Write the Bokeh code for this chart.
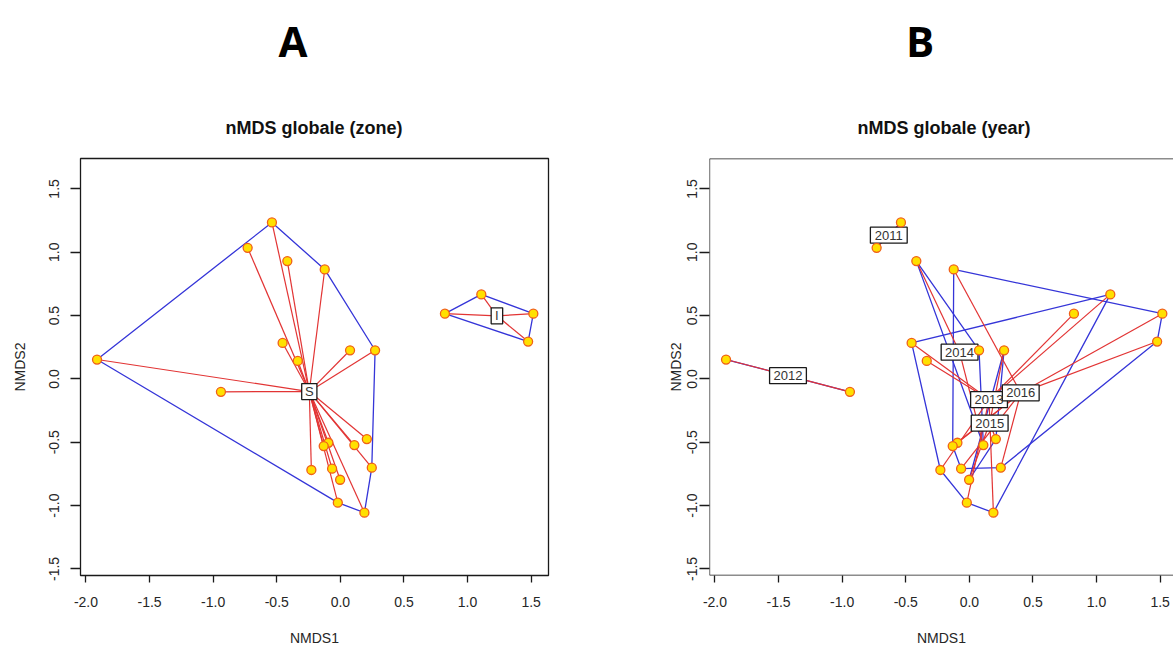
import numpy as np
from bokeh.plotting import figure
from bokeh.layouts import row, column
from bokeh.models import FixedTicker, NumeralTickFormatter, Span, Div
from bokeh.core.properties import value
from bokeh.embed import file_html
from bokeh.resources import INLINE

# ---------------- data ----------------
nmds1 = [-1.913, -0.538, -0.729, -0.417, -0.123, -0.454, -0.335, 0.076, 0.273, -0.939,
         0.208, 0.110, -0.094, -0.131, 0.247, -0.228, -0.065, -0.002, -0.020, 0.189,
         0.822, 1.108, 1.517, 1.476]
nmds2 = [0.153, 1.235, 1.035, 0.930, 0.864, 0.284, 0.142, 0.226, 0.226, -0.102,
         -0.475, -0.522, -0.504, -0.530, -0.701, -0.719, -0.709, -0.796, -0.977, -1.056,
         0.515, 0.667, 0.515, 0.295]
zone = ["S", "S", "S", "S", "S", "S", "S", "S", "S", "S",
        "S", "S", "S", "S", "S", "S", "S", "S", "S", "S",
        "I", "I", "I", "I"]
year = ["2012", "2011", "2011", "2014", "2016", "2013", "2013", "2014", "2015", "2012",
        "2015", "2014", "2016", "2016", "2016", "2013", "2016", "2015", "2013", "2013",
        "2013", "2013", "2016", "2016"]
zone_order = ["S", "I"]
year_order = ["2011", "2012", "2013", "2014", "2015", "2016"]
x_ticks = [-2.0, -1.5, -1.0, -0.5, 0.0, 0.5, 1.0, 1.5]
y_ticks = [-1.5, -1.0, -0.5, 0.0, 0.5, 1.0, 1.5]
panel_letters = ["A", "B"]
panel_titles = ["nMDS globale (zone)", "nMDS globale (year)"]

# ---------------- style ----------------
FONT = "Liberation Sans"
BLUE = "#3535d8"
RED = "#e23434"
PT_FILL = "#ffe000"
PT_LINE = "#f06018"
BOXC = "#1a1a1a"
PXU = 127.2
X0 = -2.043
Y0, Y1 = -1.552, 1.740
FH = 417
FWA, FWB = 468, 464
LEFT_A, RIGHT_A, LEFT_B = 80, 97, 64
HEAD_H = 150
FRAME_TOP = 158
TOTAL_W = LEFT_A + FWA + RIGHT_A + LEFT_B + FWB


def convex_hull(pts):
    pts = sorted(set(pts))
    if len(pts) <= 2:
        return list(pts)

    def cross(o, a, b):
        return (a[0] - o[0]) * (b[1] - o[1]) - (a[1] - o[1]) * (b[0] - o[0])

    lower = []
    for q in pts:
        while len(lower) >= 2 and cross(lower[-2], lower[-1], q) <= 0:
            lower.pop()
        lower.append(q)
    upper = []
    for q in reversed(pts):
        while len(upper) >= 2 and cross(upper[-2], upper[-1], q) <= 0:
            upper.pop()
        upper.append(q)
    return lower[:-1] + upper[:-1]


def base_fig(frame_w, left, right):
    p = figure(x_range=(X0, X0 + frame_w / PXU), y_range=(Y0, Y1),
               frame_width=frame_w, frame_height=FH,
               min_border_left=left, min_border_right=right,
               min_border_top=FRAME_TOP - HEAD_H, min_border_bottom=70,
               output_backend="svg", toolbar_location=None,
               background_fill_color="white", border_fill_color="white")
    p.grid.visible = False
    for ax in (p.xaxis[0], p.yaxis[0]):
        ax.axis_line_color = None
        ax.major_tick_out = 7
        ax.major_tick_in = 0
        ax.minor_tick_line_color = None
        ax.major_tick_line_color = BOXC
        ax.major_tick_line_width = 1.3
        ax.major_label_text_font = FONT
        ax.major_label_text_font_size = "14px"
        ax.major_label_text_color = "#262626"
        ax.axis_label_text_font = FONT
        ax.axis_label_text_font_size = "14px"
        ax.axis_label_text_font_style = "normal"
        ax.axis_label_text_color = "#262626"
        ax.formatter = NumeralTickFormatter(format="0.0")
    p.xaxis[0].ticker = FixedTicker(ticks=x_ticks)
    p.yaxis[0].ticker = FixedTicker(ticks=y_ticks)
    p.xaxis[0].axis_label = "NMDS1"
    p.yaxis[0].axis_label = "NMDS2"
    p.yaxis[0].major_label_orientation = "vertical"
    p.xaxis[0].major_label_standoff = 14
    p.xaxis[0].axis_label_standoff = 20
    p.yaxis[0].major_tick_out = 10
    return p


def label_width(s):
    return sum(3.5 if ch in "Iil1" and len(s) == 1 else 7.2 for ch in s) + 8


def draw_groups(p, groups, order):
    hx, hy = [], []
    sx0, sy0, sx1, sy1 = [], [], [], []
    cxs, cys, names = [], [], []
    for g in order:
        idx = [i for i, v in enumerate(groups) if v == g]
        pts = [(nmds1[i], nmds2[i]) for i in idx]
        cx = float(np.mean([q[0] for q in pts]))
        cy = float(np.mean([q[1] for q in pts]))
        h = convex_hull(pts)
        h.append(h[0])
        hx.append([q[0] for q in h])
        hy.append([q[1] for q in h])
        for q in pts:
            sx0.append(cx); sy0.append(cy); sx1.append(q[0]); sy1.append(q[1])
        cxs.append(cx); cys.append(cy); names.append(g)
    p.multi_line(hx, hy, line_color=BLUE, line_width=1.3)
    p.segment(x0=sx0, y0=sy0, x1=sx1, y1=sy1, line_color=RED, line_width=1.2)
    p.rect(x=cxs, y=cys, width=[label_width(n) for n in names], height=16,
           width_units="screen", height_units="screen",
           fill_color="white", line_color=BOXC, line_width=1.3)
    p.text(x=cxs, y=cys, text=names, text_align="center", text_baseline="middle",
           text_font=value(FONT), text_font_size="13px", text_color="#333333")
    p.scatter(nmds1, nmds2, size=9, fill_color=PT_FILL, line_color=PT_LINE, line_width=1.3)


# ---------------- panel A ----------------
pA = base_fig(FWA, LEFT_A, RIGHT_A)
pA.yaxis[0].major_label_standoff = 11
pA.yaxis[0].axis_label_standoff = 19
pA.outline_line_color = BOXC
pA.outline_line_width = 1.3
draw_groups(pA, zone, zone_order)

# ---------------- panel B ----------------
pB = base_fig(FWB, LEFT_B, 0)
pB.yaxis[0].major_label_standoff = 2
pB.yaxis[0].axis_label_standoff = 1
pB.outline_line_color = None
for loc, dim in ((X0, "height"), (Y0, "width"), (Y1, "width")):
    pB.add_layout(Span(location=loc, dimension=dim, line_color=BOXC, line_width=1.3))
draw_groups(pB, year, year_order)

# ---------------- header: panel letters and plot titles ----------------
frame_centres = [LEFT_A + FWA / 2, LEFT_A + FWA + RIGHT_A + LEFT_B + FWB / 2]
title_shift = [0, 3]
parts = []
for t, ttl, c, dx in zip(panel_letters, panel_titles, frame_centres, title_shift):
    parts.append(
        f'<div style="position:absolute;left:{c - 21 - 40:.0f}px;top:20px;width:80px;'
        f'text-align:center;font-family:\'Open Sans\';font-weight:700;font-size:42px;'
        f'line-height:42px;color:#000;">{t}</div>')
    parts.append(
        f'<div style="position:absolute;left:{c + dx - 150:.0f}px;top:119px;width:300px;'
        f'text-align:center;font-family:\'{FONT}\';font-weight:700;font-size:18px;'
        f'line-height:18px;color:#111;white-space:nowrap;">{ttl}</div>')
header = Div(text=f'<div style="position:relative;width:{TOTAL_W}px;height:{HEAD_H}px;">{"".join(parts)}</div>',
             width=TOTAL_W, height=HEAD_H, margin=(0, 0, 0, 0))

layout = column(header, row(pA, pB, spacing=0), spacing=0)
open("out.html", "w").write(file_html(layout, INLINE))
